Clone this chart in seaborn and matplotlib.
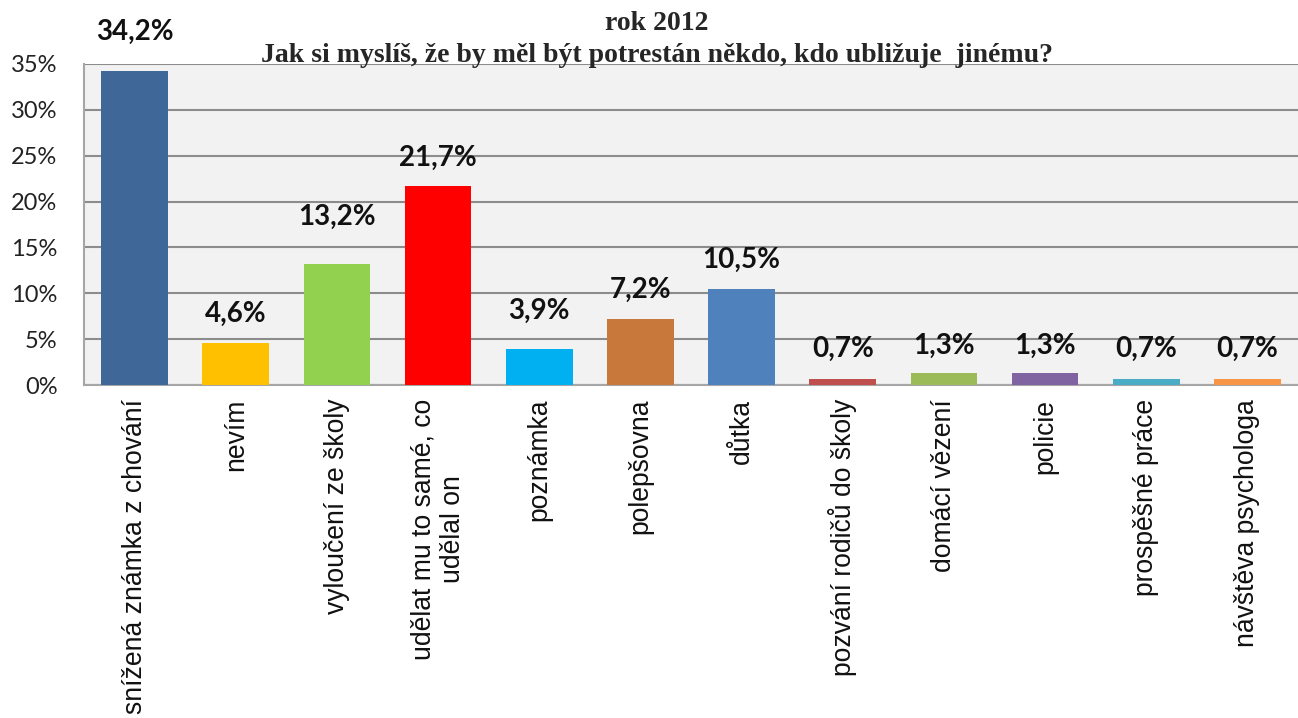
import matplotlib
matplotlib.use("Agg")
import matplotlib.pyplot as plt
import seaborn as sns
import pandas as pd

# Survey answers (share of respondents, %)
categories = [
    "snížená známka z chování",
    "nevím",
    "vyloučení ze školy",
    "udělat mu to samé, co\nudělal on",
    "poznámka",
    "polepšovna",
    "důtka",
    "pozvání rodičů do školy",
    "domácí vězení",
    "policie",
    "prospěšné práce",
    "návštěva psychologa",
]
values = [34.2, 4.6, 13.2, 21.7, 3.9, 7.2, 10.5, 0.7, 1.3, 1.3, 0.7, 0.7]
colors = [
    "#3F6797", "#FFC000", "#92D050", "#FF0000", "#00B0F0", "#C8783B",
    "#4F81BD", "#C0504D", "#9BBB59", "#8064A2", "#4BACC6", "#F79646",
]
y_ticks = [0, 5, 10, 15, 20, 25, 30, 35]

# vertical gap (px) between each bar top and its value label
label_gap_px = [39, 29, 47, 28, 38, 29, 29, 30, 27, 27, 30, 30]

df = pd.DataFrame({"kategorie": categories, "podil": values})

sns.set_theme(style="white")
plt.rcParams["font.family"] = ["Liberation Sans", "DejaVu Sans"]

fig = plt.figure(figsize=(12.98, 7.18), dpi=100)
ax = fig.add_axes([84 / 1298, 1 - 385 / 718, 1 - 84 / 1298, (385 - 64) / 718])
ax.set_facecolor("#F2F2F2")

sns.barplot(
    data=df, x="kategorie", y="podil", hue="kategorie",
    palette=colors, width=0.66, legend=False, ax=ax, saturation=1,
    linewidth=0, zorder=3,
)

ax.set_ylim(0, 35)
ax.set_xlim(-0.5, len(categories) - 0.5)
ax.set_yticks(y_ticks)
ax.set_yticklabels([f"{t}%" for t in y_ticks], family="Lato", fontsize=17,
                   color="#222222")
ax.yaxis.grid(True, color="#8C8C8C", linewidth=1.5, zorder=0)
ax.set_axisbelow(True)
ax.tick_params(axis="y", length=0, pad=19)
ax.tick_params(axis="x", length=0, pad=10)

ax.set_xticks(range(len(categories)))
ax.set_xticklabels(categories, rotation=90, va="top", ha="center",
                   multialignment="center", fontsize=19.1, color="#111111")
ax.set_xlabel("")
ax.set_ylabel("")

for side in ("top", "right"):
    ax.spines[side].set_visible(False)
for side in ("left", "bottom"):
    ax.spines[side].set_color("#A6A6A6")
    ax.spines[side].set_linewidth(1.5)

for i, (v, gap) in enumerate(zip(values, label_gap_px)):
    txt = f"{v:.1f}".replace(".", ",") + "%"
    ax.annotate(txt, xy=(i, v), xytext=(0, gap * 0.72), textcoords="offset points",
                ha="center", va="center", family="Lato", fontweight="bold",
                fontsize=20, color="#111111", zorder=5, annotation_clip=False)

fig.text(0.506, 1 - 23 / 718, "rok 2012", ha="center", va="center",
         family="Liberation Serif", fontweight="bold", fontsize=20)
fig.text(0.506, 1 - 56 / 718,
         "Jak si myslíš, že by měl být potrestán někdo, kdo ubližuje  jinému?",
         ha="center", va="center", family="Liberation Serif",
         fontweight="bold", fontsize=20, zorder=10)

fig.savefig("out.png", dpi=100, facecolor="white")
